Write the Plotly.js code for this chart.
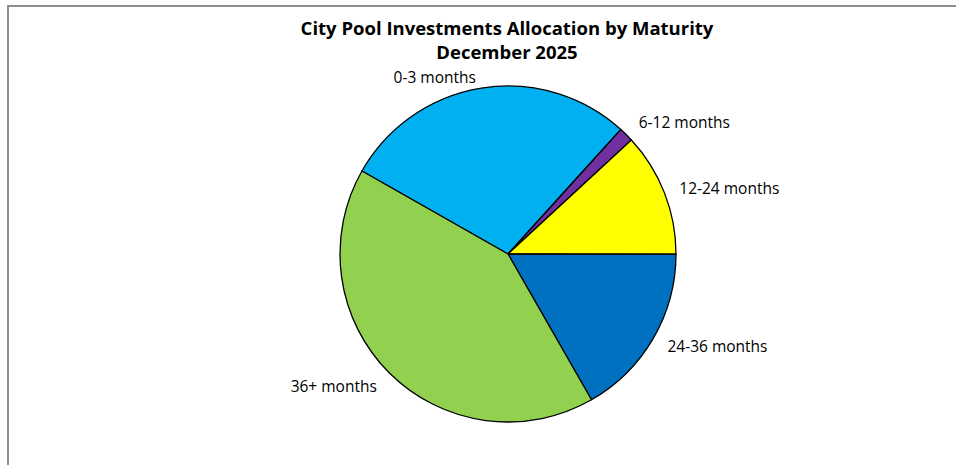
<!DOCTYPE html>
<html>
<head>
<meta charset="utf-8">
<script src="https://cdn.plot.ly/plotly-3.0.1.min.js"></script>
<style>
  html, body { margin: 0; padding: 0; background: #ffffff; }
  #frame { position: absolute; left: 0; top: 0; width: 956px; height: 465px; }
  #border { position: absolute; left: 7px; top: 5px; width: 960px; height: 470px;
            border-left: 2px solid #8e8e8e; border-top: 2px solid #8e8e8e; pointer-events: none; }
  #chart { position: absolute; left: 0; top: 0; width: 956px; height: 465px; }
</style>
</head>
<body>
<div id="frame">
  <div id="chart"></div>
  <div id="border"></div>
</div>
<script>
const categories = ["0-3 months", "6-12 months", "12-24 months", "24-36 months", "36+ months"];
const allocationPct = [28.5, 1.4, 11.9, 16.7, 41.5];
const sliceColors = ["#00B0F0", "#7030A0", "#FFFF00", "#0070C0", "#92D050"];

const W = 956, H = 465;
const cx = 508, cy = 254, r = 168;
const labelFont = { family: "'Open Sans', Lato, sans-serif", size: 15.5, color: "#000000" };

function dom(rad) {
  return {
    x: [(cx - rad) / W, (cx + rad) / W],
    y: [(H - cy - rad) / H, (H - cy + rad) / H]
  };
}

// main pie: slices (+ label for the top slice)
const pieTrace = {
  type: "pie",
  labels: categories,
  values: allocationPct,
  sort: false,
  direction: "clockwise",
  rotation: -60.4,
  marker: { colors: sliceColors, line: { color: "#000000", width: 1.3 } },
  textposition: "outside",
  texttemplate: categories.map((c, i) => i === 0 ? "%{label}" : ""),
  textfont: labelFont,
  hoverinfo: "label+percent",
  showlegend: false,
  domain: dom(r)
};

// transparent companion pie with same data, only used to place the other labels a bit further out
const labelTrace = {
  type: "pie",
  labels: categories,
  values: allocationPct,
  sort: false,
  direction: "clockwise",
  rotation: -60.4,
  marker: { colors: categories.map(() => "rgba(0,0,0,0)"), line: { width: 0 } },
  textposition: "outside",
  texttemplate: categories.map((c, i) => i === 0 ? "" : "%{label}"),
  textfont: labelFont,
  hoverinfo: "skip",
  showlegend: false,
  domain: dom(r + 10)
};

const layout = {
  width: W, height: H,
  margin: { l: 0, r: 0, t: 0, b: 0 },
  paper_bgcolor: "#ffffff",
  title: {
    text: "<b>City Pool Investments Allocation by Maturity<br>December 2025</b>",
    font: { family: "'Open Sans', Lato, sans-serif", size: 18.5, color: "#000000" },
    x: 507 / W, xanchor: "center",
    y: 1 - 35 / H, yanchor: "top"
  },
  showlegend: false
};

Plotly.newPlot("chart", [labelTrace, pieTrace], layout, { displayModeBar: false, staticPlot: true });
</script>
</body>
</html>
